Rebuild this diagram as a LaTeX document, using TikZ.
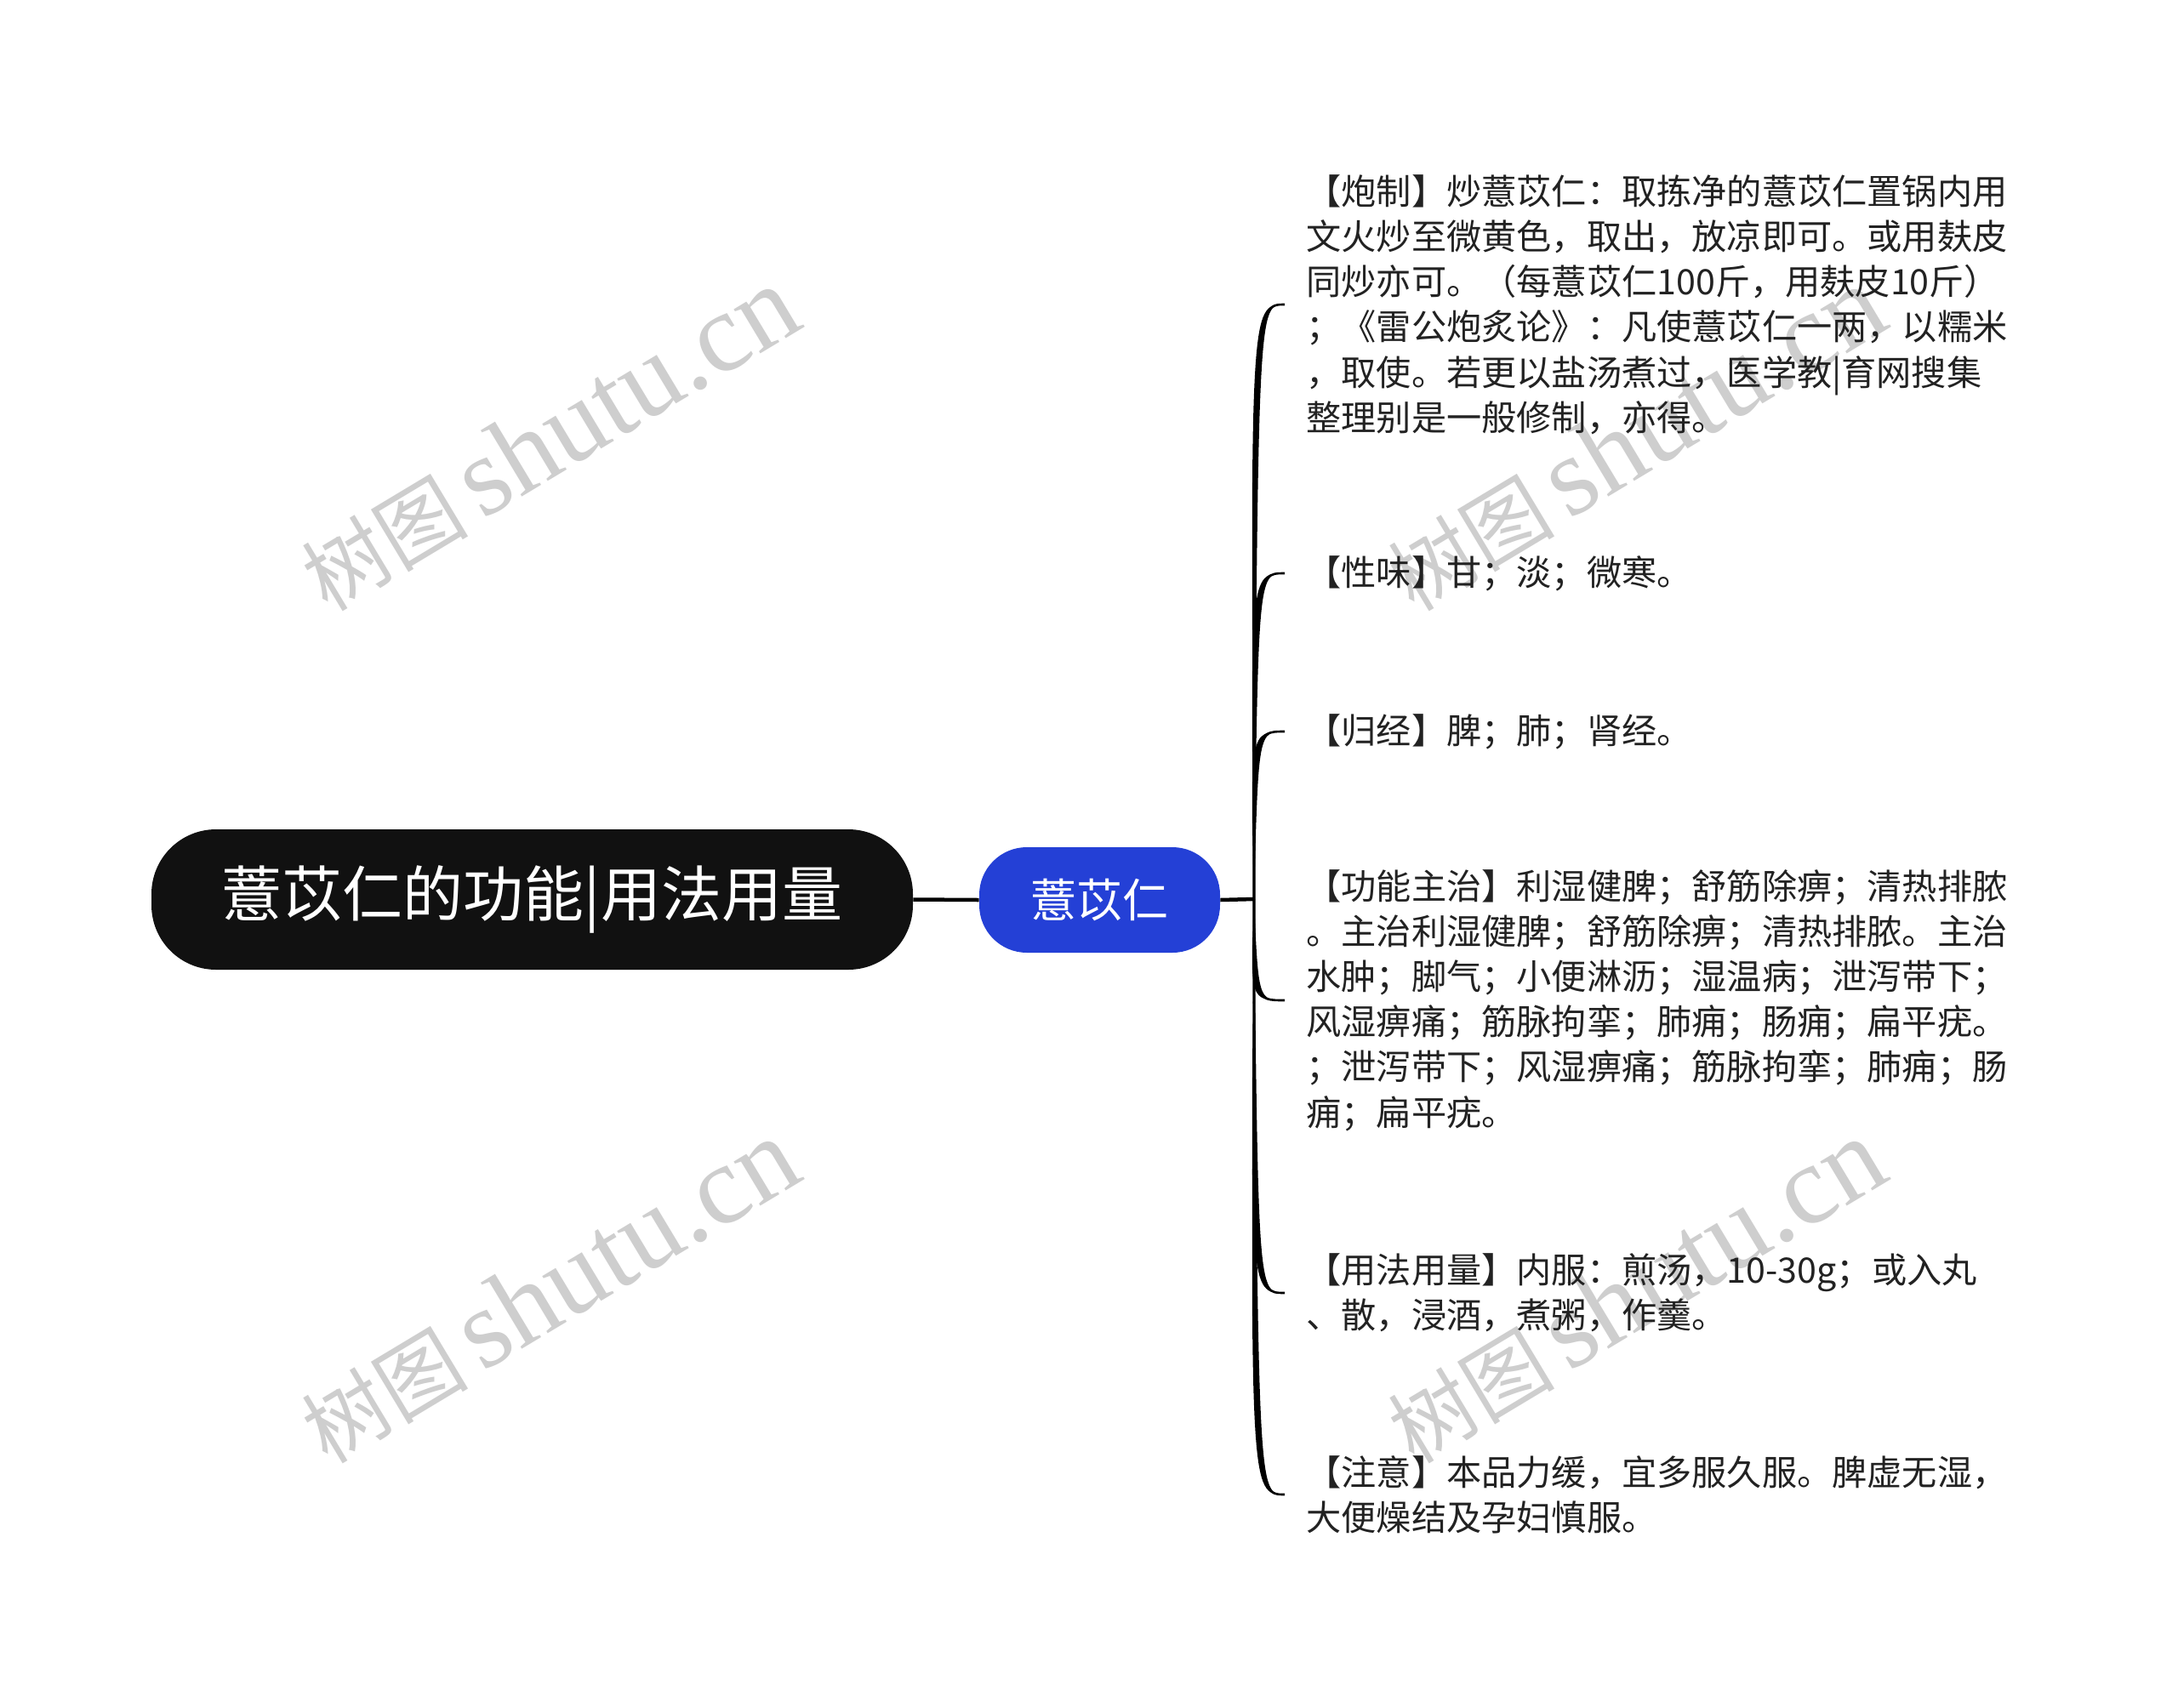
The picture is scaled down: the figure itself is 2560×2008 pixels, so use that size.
\documentclass[tikz,border=0pt]{standalone}
\usepackage{fontspec}
\setmainfont{Noto Sans CJK SC}
\newfontfamily\wmlatin{Liberation Serif}
\usetikzlibrary{calc}
\definecolor{rootfill}{RGB}{17,17,17}
\definecolor{bluefill}{RGB}{36,64,214}
\definecolor{txt}{RGB}{34,34,34}
\definecolor{wm}{RGB}{206,206,206}
\tikzset{
  rootbox/.style={fill=rootfill, rounded corners=38pt, minimum width=447.5pt, minimum height=82.5pt, inner sep=0pt, text=white, font=\fontsize{35.5pt}{40pt}\selectfont},
  subbox/.style={fill=bluefill, rounded corners=28pt, minimum width=141.5pt, minimum height=62pt, inner sep=0pt, text=white, font=\fontsize{27pt}{32pt}\selectfont},
  leaf/.style={anchor=west, align=left, inner xsep=12.5pt, inner ysep=0pt, text=txt, font=\fontsize{20.6pt}{26.6pt}\selectfont},
  link/.style={line width=2.25pt, draw=black},
  wmark/.style={text=wm, rotate=31, inner sep=0pt},
}
\begin{document}
\begin{tikzpicture}[x=0.5pt,y=-0.5pt]
\useasboundingbox[fill=white] (0,0) rectangle (2560,2008);
% watermarks
\foreach \wx/\wy [count=\i] in {645/516, 1922/516, 645/1518, 1922/1518}{
  \node[wmark] (wm\i) at (\wx,\wy) {\fontsize{49pt}{55pt}\selectfont 树图\hspace{8pt}{\wmlatin\fontsize{66pt}{68pt}\selectfont shutu.cn}};
}
% main nodes
\node[rootbox] (root) at (625.5,1057.5) {薏苡仁的功能|用法用量};
\node[subbox] (sub) at (1292.5,1058) {薏苡仁};
\coordinate (hub) at (1474,1057);
\draw[link] (root.east) -- (sub.west);
\draw[link] (sub.east) -- (hub);
% leaves
\node[leaf] (l1) at (1510,358) {【炮制】炒薏苡仁：取拣净的薏苡仁置锅内用\\文火炒至微黄色，取出，放凉即可。或用麸皮\\同炒亦可。（每薏苡仁100斤，用麸皮10斤）\\；《雷公炮炙论》：凡使薏苡仁一两，以糯米\\，取使。若更以盐汤煮过，医学教|育网搜集\\整理别是一般修制，亦得。};
\node[leaf] (l2) at (1510,674) {【性味】甘；淡；微寒。};
\node[leaf] (l3) at (1510,860) {【归经】脾；肺；肾经。};
\node[leaf] (l4) at (1510,1176) {【功能主治】利湿健脾；舒筋除痹；清热排脓\\。主治利湿健脾；舒筋除痹；清热排脓。主治\\水肿；脚气；小便淋沥；湿温病；泄泻带下；\\风湿痹痛；筋脉拘挛；肺痈；肠痈；扁平疣。\\；泄泻带下；风湿痹痛；筋脉拘挛；肺痈；肠\\痈；扁平疣。};
\node[leaf] (l5) at (1510,1520) {【用法用量】内服：煎汤，10-30g；或入丸\\、散，浸酒，煮粥，作羹。};
\node[leaf] (l6) at (1510,1757) {【注意】本品力缓，宜多服久服。脾虚无湿，\\大便燥结及孕妇慎服。};
% tapered branch curves
\foreach \l in {l1,l2,l3,l4,l5,l6}{
  \fill[black] (hub) .. controls ($(hub |- \l.west)+(-5,0)$) and ($(hub |- \l.west)+(-5,0)$) .. (\l.west)
     .. controls ($(hub |- \l.west)+(5,0)$) and ($(hub |- \l.west)+(5,0)$) .. (hub) -- cycle;
  \draw[black, line width=1.3pt] (hub) .. controls (hub |- \l.west) and (hub |- \l.west) .. (\l.west);
}
\end{tikzpicture}
\end{document}
